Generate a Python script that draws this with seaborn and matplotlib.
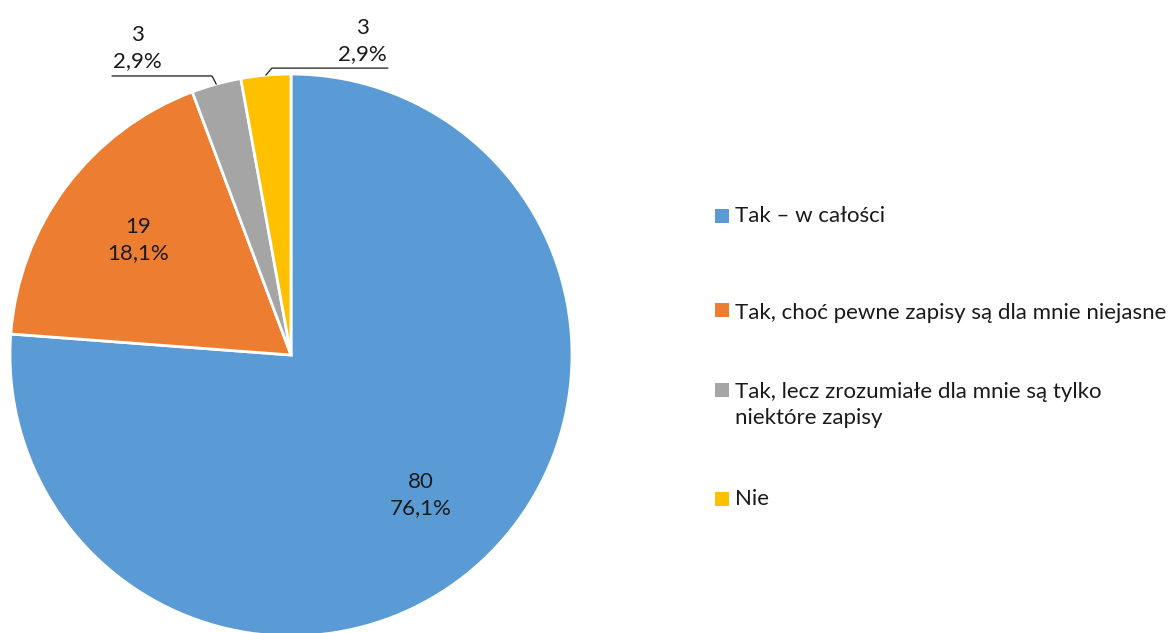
import numpy as np
import matplotlib
matplotlib.use("Agg")
import matplotlib.pyplot as plt
import matplotlib.patches as mpatches
import seaborn as sns

# data
categories = [
    "Tak – w całości",
    "Tak, choć pewne zapisy są dla mnie niejasne",
    "Tak, lecz zrozumiałe dla mnie są tylko\nniektóre zapisy",
    "Nie",
]
counts = [80, 19, 3, 3]
pct_labels = ["76,1%", "18,1%", "2,9%", "2,9%"]
colors = ["#5B9BD5", "#ED7D31", "#A5A5A5", "#FFC000"]

sns.set_theme(style="white")
plt.rcParams["font.family"] = ["Lato", "DejaVu Sans"]
palette = sns.color_palette(colors)

fig = plt.figure(figsize=(11.75, 6.33), dpi=100)
ax = fig.add_axes([10 / 1175, -3 / 633, 562 / 1175, 562 / 633])

wedges, _ = ax.pie(counts, colors=palette, startangle=90, counterclock=False,
                   radius=1, wedgeprops=dict(edgecolor="white", linewidth=2))
ax.set_xlim(-1, 1)
ax.set_ylim(-1, 1)
ax.set_aspect("equal")
ax.axis("off")

fs = 16
txt_col = "#1a1a1a"
# inside labels for the two big slices
for i in range(2):
    w = wedges[i]
    mid = np.deg2rad((w.theta1 + w.theta2) / 2)
    r = 0.68
    ax.text(r * np.cos(mid), r * np.sin(mid), f"{counts[i]}\n{pct_labels[i]}",
            ha="center", va="center", fontsize=fs, color=txt_col, linespacing=1.4)

# outside labels with leader lines for the small slices
# (elbow, end of line, text position) in pie units
outside = {
    2: ((-0.281, 0.993), (-0.637, 0.993), (-0.548, 1.093)),
    3: ((-0.068, 1.021), (0.345, 1.021), (0.255, 1.117)),
}
for i, (elbow, end, tpos) in outside.items():
    w = wedges[i]
    mid = np.deg2rad((w.theta1 + w.theta2) / 2)
    edge = (np.cos(mid), np.sin(mid))
    ax.plot([edge[0], elbow[0], end[0]], [edge[1], elbow[1], end[1]],
            color=txt_col, lw=0.9, clip_on=False)
    ax.text(tpos[0], tpos[1], f"{counts[i]}\n{pct_labels[i]}", ha="center", va="center",
            fontsize=fs, color=txt_col, linespacing=1.4, clip_on=False)

# legend drawn by hand so the rows sit where they are in the original
row_y = [216, 313, 405, 499]
sq_y = [216, 310, 390, 499]
for lab, col, ty, sy in zip(categories, palette, row_y, sq_y):
    fig.patches.append(mpatches.Rectangle((715 / 1175, 1 - (sy + 7) / 633), 14 / 1175, 14 / 633,
                                          transform=fig.transFigure, facecolor=col,
                                          edgecolor="none"))
    fig.text(735 / 1175, 1 - ty / 633, lab, ha="left", va="center", fontsize=fs,
             color=txt_col, linespacing=1.35)

fig.savefig("out.png", dpi=100)
